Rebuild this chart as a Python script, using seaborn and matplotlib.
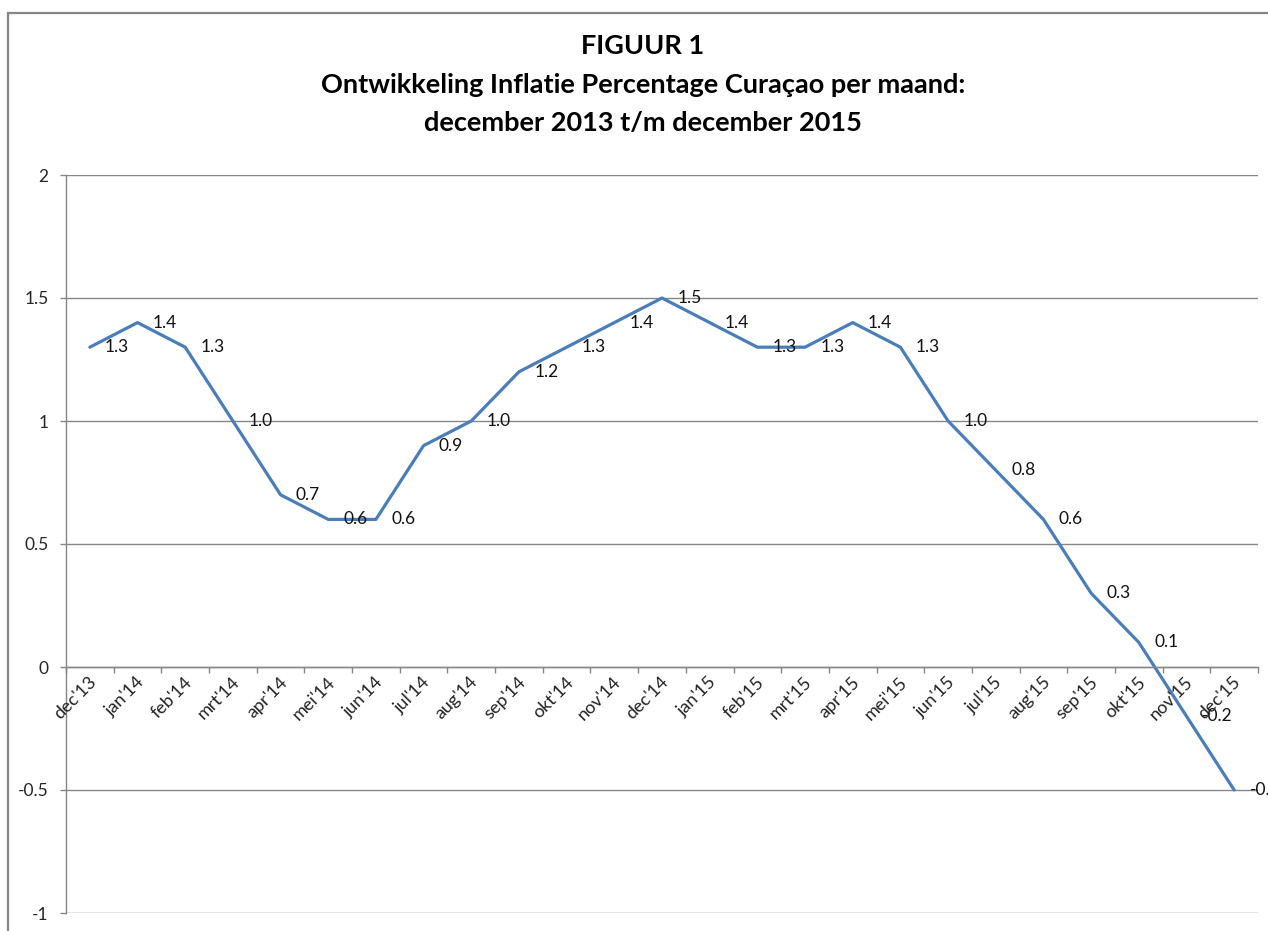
import numpy as np
import pandas as pd
import matplotlib
matplotlib.use("Agg")
import matplotlib.pyplot as plt
import seaborn as sns
from matplotlib.ticker import FixedLocator, FuncFormatter, NullFormatter, NullLocator
from matplotlib.patches import Rectangle

# data
maanden = ["dec'13", "jan'14", "feb'14", "mrt'14", "apr'14", "mei'14", "jun'14",
           "jul'14", "aug'14", "sep'14", "okt'14", "nov'14", "dec'14", "jan'15",
           "feb'15", "mrt'15", "apr'15", "mei'15", "jun'15", "jul'15", "aug'15",
           "sep'15", "okt'15", "nov'15", "dec'15"]
inflatie = [1.3, 1.4, 1.3, 1.0, 0.7, 0.6, 0.6, 0.9, 1.0, 1.2, 1.3, 1.4, 1.5,
            1.4, 1.3, 1.3, 1.4, 1.3, 1.0, 0.8, 0.6, 0.3, 0.1, -0.2, -0.5]
titel = ["FIGUUR 1",
         "Ontwikkeling Inflatie Percentage Curaçao per maand:",
         "december 2013 t/m december 2015"]
y_ticks = [-1, -0.5, 0, 0.5, 1, 1.5, 2]

df = pd.DataFrame({"maand": maanden, "inflatie": inflatie})
df["pos"] = np.arange(len(df))

sns.set_theme(style="white")
plt.rcParams["font.family"] = ["Lato", "DejaVu Sans"]

grijs = "#868686"
W, H = 1268, 931
fig = plt.figure(figsize=(W / 100, H / 100), dpi=100)
ax = fig.add_axes([66 / W, 1 - 913 / H, (1258 - 66) / W, (913 - 175) / H])

sns.lineplot(data=df, x="pos", y="inflatie", ax=ax, color="#4A7EBB",
             linewidth=2.3)

# data labels right of the points
for p, v in zip(df["pos"], df["inflatie"]):
    ax.annotate(f"{v:.1f}", (p, v), xytext=(11, 0), textcoords="offset points",
                ha="left", va="center", fontsize=12.5, color="#111111",
                annotation_clip=False)

# month labels, rotated, hanging under the zero line
for p, m in zip(df["pos"], df["maand"]):
    ax.annotate(m, (p, 0), xytext=(3, -9), textcoords="offset points",
                rotation=45, rotation_mode="anchor", ha="right", va="center",
                fontsize=13, color="#222222", annotation_clip=False)

ax.set_xlim(-0.5, len(df) - 0.5)
ax.set_ylim(-1, 2)
ax.set_xlabel("")
ax.set_ylabel("")

# category ticks on the boundaries
ax.xaxis.set_major_locator(FixedLocator(np.arange(-0.5, len(df), 1)))
ax.xaxis.set_major_formatter(NullFormatter())
ax.xaxis.set_minor_locator(NullLocator())
ax.tick_params(axis="x", which="major", direction="out", length=4,
               color=grijs, width=1, bottom=True)

ax.yaxis.set_major_locator(FixedLocator(y_ticks))
ax.yaxis.set_major_formatter(FuncFormatter(lambda y, p: f"{y:g}"))
ax.tick_params(axis="y", direction="out", length=4.5, color=grijs, width=1,
               left=True, labelsize=12.5, pad=8)

ax.yaxis.grid(True, color=grijs, linewidth=1)
ax.xaxis.grid(False)
ax.set_axisbelow(True)
for s in ["top", "right"]:
    ax.spines[s].set_visible(False)
ax.spines["left"].set_color(grijs)
ax.spines["left"].set_linewidth(1)
ax.spines["bottom"].set_color(grijs)
ax.spines["bottom"].set_linewidth(1)
ax.spines["bottom"].set_position(("data", 0))

# title
for tekst, ypix in zip(titel, [46, 85, 123]):
    fig.text(643 / W, 1 - ypix / H, tekst, ha="center", va="center",
             fontsize=19.5, fontweight="bold", color="black")

# chart frame
fig.patches.append(Rectangle((8 / W, -0.2), 1.2, 1.2 - 13 / H,
                             transform=fig.transFigure, fill=False,
                             edgecolor=grijs, linewidth=1.6))

fig.savefig("out.png", dpi=100)
